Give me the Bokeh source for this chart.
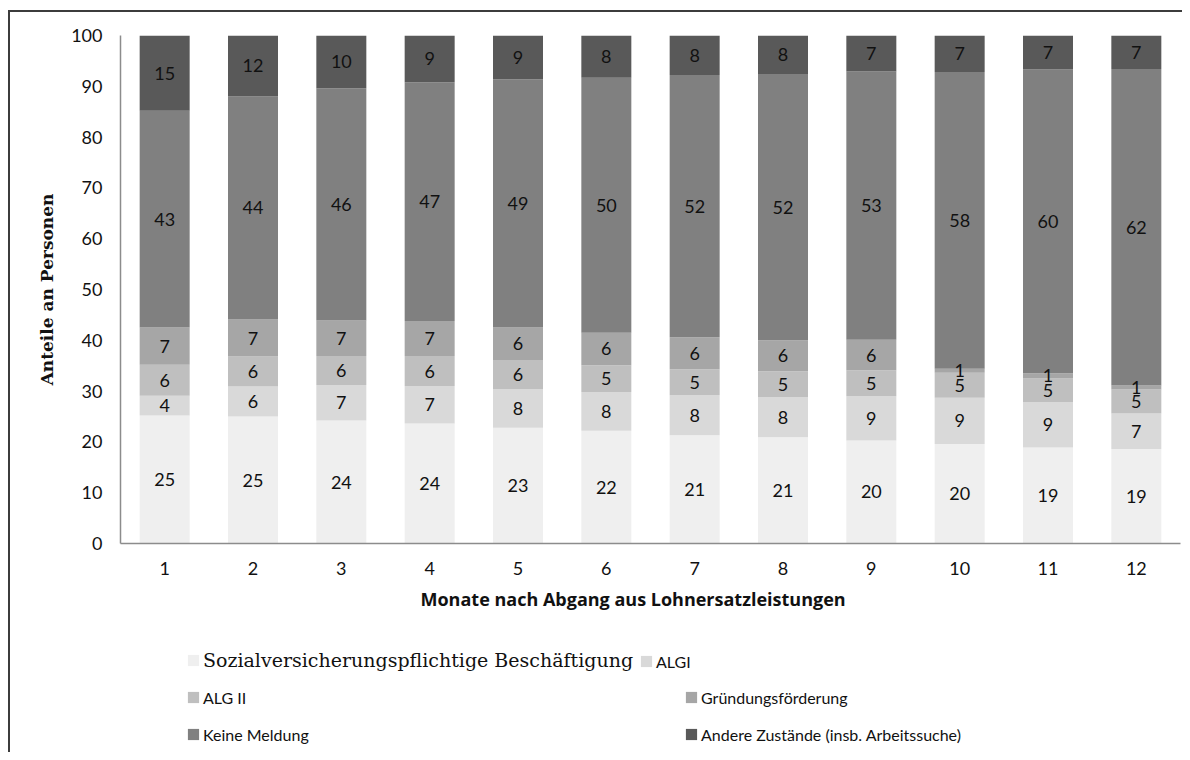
from bokeh.plotting import figure
from bokeh.models import ColumnDataSource, Legend, LegendItem, FactorRange, Range1d, Title
from bokeh.layouts import column
from bokeh.core.properties import value
from bokeh.embed import file_html
from bokeh.resources import INLINE

# ---------------- data ----------------
months = ["1", "2", "3", "4", "5", "6", "7", "8", "9", "10", "11", "12"]
sozial     = [25.2, 25.0, 24.2, 23.6, 22.8, 22.2, 21.3, 20.9, 20.3, 19.6, 18.9, 18.6]
algi       = [3.9, 5.9, 7.0, 7.4, 7.6, 7.6, 7.9, 7.9, 8.7, 9.1, 8.9, 7.0]
alg2       = [6.1, 5.9, 5.7, 5.9, 5.7, 5.3, 5.1, 5.1, 5.1, 4.9, 4.7, 4.7]
gruendung  = [7.3, 7.3, 7.0, 6.9, 6.4, 6.4, 6.3, 6.1, 6.0, 0.8, 1.0, 0.8]
keine      = [42.7, 43.9, 45.7, 47.0, 48.9, 50.2, 51.6, 52.4, 52.8, 58.4, 59.8, 62.3]
andere     = [14.8, 12.0, 10.4, 9.2, 8.6, 8.3, 7.8, 7.6, 7.1, 7.2, 6.7, 6.6]
series_names = [
    "Sozialversicherungspflichtige Beschäftigung",
    "ALGI",
    "ALG II",
    "Gründungsförderung",
    "Keine Meldung",
    "Andere Zustände (insb. Arbeitssuche)",
]
y_ticks = [0, 10, 20, 30, 40, 50, 60, 70, 80, 90, 100]
x_title = "Monate nach Abgang aus Lohnersatzleistungen"
y_title = "Anteile an Personen"

colors = ["#efefef", "#d9d9d9", "#bfbfbf", "#a6a6a6", "#808080", "#595959"]
series = [sozial, algi, alg2, gruendung, keine, andere]
keys = ["s0", "s1", "s2", "s3", "s4", "s5"]

src = ColumnDataSource(dict(month=months, **{k: v for k, v in zip(keys, series)}))

SANS = "Lato"
SERIF = "DejaVu Serif"
TXT = "#111111"

W = 1182
CHART_H = 630
LEG_H = 122

p = figure(
    x_range=FactorRange(*months, range_padding=0),
    y_range=(0, 100),
    width=W, height=CHART_H,
    output_backend="svg", toolbar_location=None,
    min_border_left=120, min_border_right=2,
    min_border_top=35, min_border_bottom=87,
)
p.border_fill_color = None
p.background_fill_color = None
p.outline_line_color = None
p.xgrid.grid_line_color = None
p.ygrid.grid_line_color = None

p.vbar_stack(keys, x="month", width=0.566, color=colors, line_color=None, source=src)

# value labels (rounded shares, centred in each segment)
xs, ys, txt = [], [], []
bottom = [0.0] * len(months)
for vals in series:
    for i, v in enumerate(vals):
        xs.append(months[i])
        ys.append(bottom[i] + v / 2)
        txt.append(str(int(v + 0.5)))
        bottom[i] += v
p.text(x=xs, y=ys, text=txt, text_font=value(SANS), text_font_size="18px",
       text_align="center", text_baseline="middle", text_color=TXT)

# axes
for ax in (p.xaxis[0], p.yaxis[0]):
    ax.axis_line_color = "#8c8c8c"
    ax.axis_line_width = 1.5
    ax.major_tick_line_color = None
    ax.minor_tick_line_color = None
    ax.major_tick_out = 0
    ax.major_tick_in = 0
    ax.minor_tick_out = 0
    ax.major_label_text_font = SANS
    ax.major_label_text_font_size = "18px"
    ax.major_label_text_color = TXT

p.yaxis.ticker = y_ticks
p.yaxis.major_label_standoff = 18
p.yaxis.axis_label = y_title
p.yaxis.axis_label_text_font = SERIF
p.yaxis.axis_label_text_font_style = "bold"
p.yaxis.axis_label_text_font_size = "17px"
p.yaxis.axis_label_text_color = TXT
p.yaxis.axis_label_standoff = 11

p.xaxis.major_label_standoff = 18

# x-axis title: placed as a below-title so it can sit slightly left of centre like the original
p.add_layout(Title(text=x_title, align="left", offset=300, standoff=15,
                   vertical_align="bottom",
                   text_font="Open Sans", text_font_style="bold",
                   text_font_size="18px", text_color=TXT), "below")

# ---------------- legend strip ----------------
pl = figure(
    x_range=FactorRange(*months), y_range=Range1d(500, 600),
    width=W, height=LEG_H,
    output_backend="svg", toolbar_location=None,
    x_axis_location=None, y_axis_location=None,
    min_border=0, min_border_left=0, min_border_right=0,
    min_border_top=0, min_border_bottom=0,
)
pl.border_fill_color = None
pl.background_fill_color = None
pl.outline_line_color = None
pl.xgrid.grid_line_color = None
pl.ygrid.grid_line_color = None
leg_renderers = pl.vbar_stack(keys, x="month", width=0.566, color=colors,
                              line_color=None, source=src)

legend_pos = [(66, 81), (519, 81), (66, 45), (564, 45), (66, 8), (564, 8)]
for i, (name, r) in enumerate(zip(series_names, leg_renderers)):
    lg = Legend(
        items=[LegendItem(label=name, renderers=[r])],
        location=legend_pos[i],
        orientation="vertical",
        padding=0, margin=0, spacing=0,
        glyph_width=14, glyph_height=14,
        label_standoff=3, label_height=20,
        label_text_font=SERIF if i == 0 else SANS,
        label_text_font_size="19px" if i == 0 else "16px",
        label_text_color=TXT,
        border_line_color=None,
        background_fill_alpha=0,
    )
    pl.add_layout(lg, "center")

layout = column(
    p, pl, spacing=0,
    styles={"box-shadow": "inset 8px 10px 0 0 #ffffff, inset 10px 12px 0 0 #3c3c3c"},
)

open("out.html", "w").write(file_html(layout, INLINE))
